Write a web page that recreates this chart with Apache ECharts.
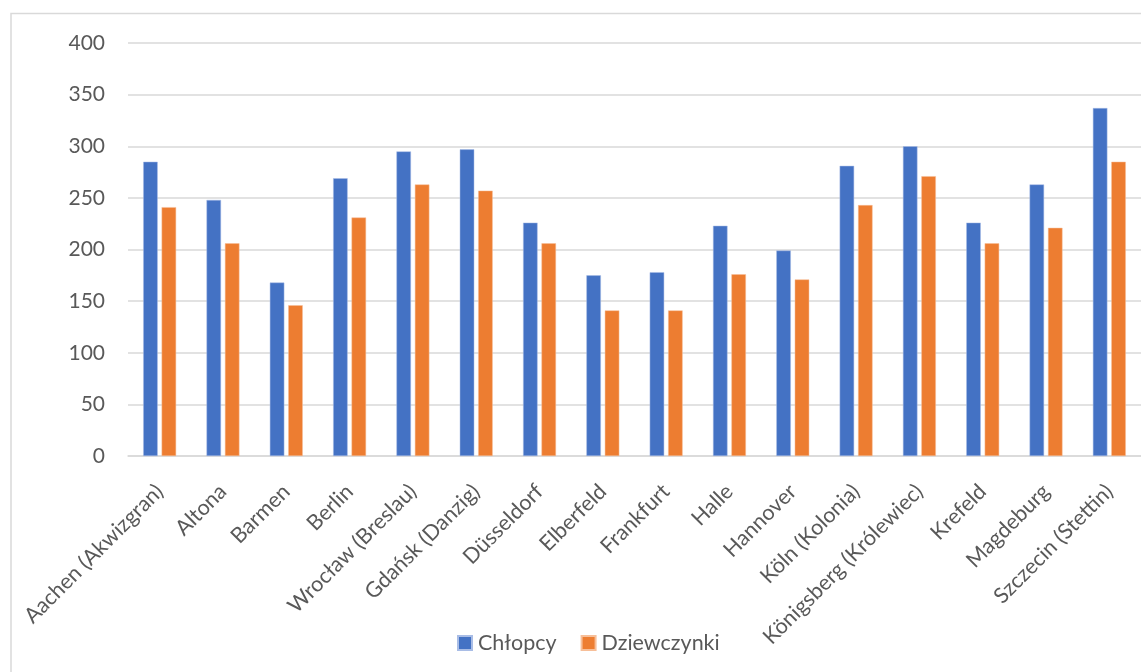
<!DOCTYPE html>
<html>
<head>
<meta charset="utf-8">
<script src="https://cdn.jsdelivr.net/npm/echarts@6/dist/echarts.min.js"></script>
<style>
  html, body { margin: 0; padding: 0; background: #ffffff; }
  #chart { width: 1141px; height: 672px; }
</style>
</head>
<body>
<div id="chart"></div>
<script>
// Miasta
const cities = [
  'Aachen (Akwizgran)', 'Altona', 'Barmen', 'Berlin', 'Wrocław (Breslau)',
  'Gdańsk (Danzig)', 'Düsseldorf', 'Elberfeld', 'Frankfurt', 'Halle',
  'Hannover', 'Köln (Kolonia)', 'Königsberg (Królewiec)', 'Krefeld',
  'Magdeburg', 'Szczecin (Stettin)'
];
// Chłopcy
const boys = [285, 248, 168, 269, 295, 297, 226, 175, 178, 223, 199, 281, 300, 226, 263, 337];
// Dziewczynki
const girls = [241, 206, 146, 231, 263, 257, 206, 141, 141, 176, 171, 243, 271, 206, 221, 285];
// Oś Y
const yMin = 0, yMax = 400, yStep = 50;

const textColor = '#595959';
const font = 'Lato, "Open Sans", sans-serif';
const chart = echarts.init(document.getElementById('chart'));

chart.setOption({
  animation: false,
  backgroundColor: '#ffffff',
  graphic: [{
    type: 'rect',
    shape: { x: 11, y: 13.5, width: 1200, height: 700 },
    style: { fill: 'none', stroke: '#d9d9d9', lineWidth: 1.5 },
    silent: true
  }],
  grid: { left: 128, top: 43, width: 1024, height: 413, containLabel: false },
  legend: {
    left: 457, top: 632, padding: 0,
    icon: 'rect', itemWidth: 14, itemHeight: 14, itemGap: 24,
    textStyle: { color: textColor, fontSize: 21.5, fontFamily: font, padding: [0, 0, 0, 1] },
    data: ['Chłopcy', 'Dziewczynki']
  },
  xAxis: {
    type: 'category',
    data: cities,
    axisLine: { lineStyle: { color: '#d9d9d9', width: 1.5 } },
    axisTick: { show: false },
    axisLabel: {
      rotate: 45, interval: 0, margin: 32, verticalAlign: 'middle',
      color: textColor, fontSize: 21.5, fontFamily: font
    }
  },
  yAxis: {
    type: 'value', min: yMin, max: yMax, interval: yStep,
    axisLine: { show: false },
    axisTick: { show: false },
    splitLine: { lineStyle: { color: '#d9d9d9', width: 1.5 } },
    axisLabel: { margin: 23, color: textColor, fontSize: 21, fontFamily: font }
  },
  series: [
    {
      name: 'Chłopcy', type: 'bar', data: boys,
      barWidth: 14.5, barGap: '27%',
      itemStyle: { color: '#4472C4', borderColor: '#a9bde6', borderWidth: 0.5 }
    },
    {
      name: 'Dziewczynki', type: 'bar', data: girls,
      barWidth: 14.5,
      itemStyle: { color: '#ED7D31', borderColor: '#f7bf99', borderWidth: 0.5 }
    }
  ]
});
</script>
</body>
</html>
